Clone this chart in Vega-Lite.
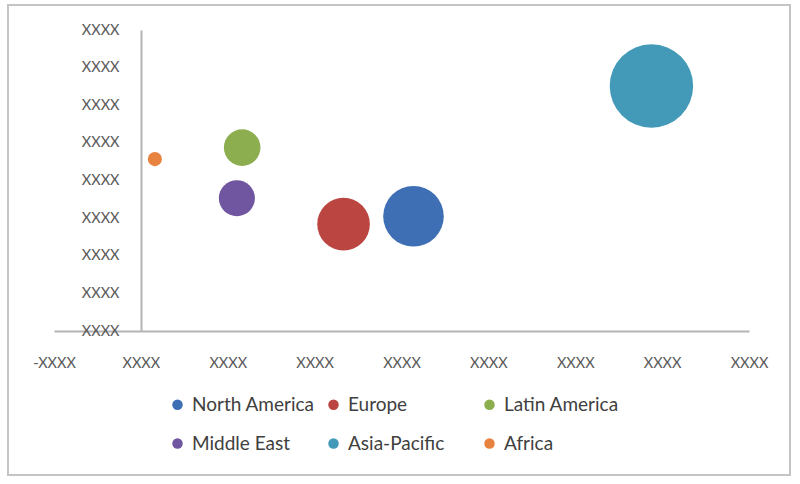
{
  "$schema": "https://vega.github.io/schema/vega-lite/v6.json",
  "width": 695,
  "height": 301,
  "autosize": "none",
  "padding": {"left": 54, "top": 30, "right": 51, "bottom": 153},
  "background": "white",
  "config": {
    "view": {"stroke": null},
    "font": "Lato",
    "axis": {
      "title": null,
      "grid": false,
      "ticks": false,
      "tickSize": 0,
      "domainColor": "#b4b4b4",
      "domainWidth": 2,
      "labelFont": "Lato",
      "labelFontSize": 14.5,
      "labelColor": "#595959",
      "labelFlush": false,
      "labelOverlap": false,
      "labelBound": false
    }
  },
  "layer": [
    {
      "data": {"values": [{}]},
      "mark": {"type": "rect", "fill": null, "stroke": "#c4c4c4", "strokeWidth": 2, "clip": false},
      "encoding": {
        "x": {
          "datum": -1.5295,
          "type": "quantitative",
          "scale": {"domain": [-1, 7], "nice": false, "zero": false},
          "axis": {
            "values": [-1, 0, 1, 2, 3, 4, 5, 6, 7],
            "labelExpr": "datum.value < 0 ? '-XXXX' : 'XXXX'",
            "labelPadding": 25
          }
        },
        "x2": {"datum": 7.4718},
        "y": {
          "datum": -3.827,
          "type": "quantitative",
          "scale": {"domain": [0, 8], "nice": false, "zero": false},
          "axis": {
            "values": [0, 1, 2, 3, 4, 5, 6, 7, 8],
            "labelExpr": "'XXXX'",
            "offset": -87,
            "labelPadding": 22
          }
        },
        "y2": {"datum": 8.6645}
      }
    },
    {
      "data": {
        "values": [
          {"region": "North America", "x": 3.138, "y": 3.05, "size": 36.7},
          {"region": "Europe", "x": 2.333, "y": 2.84, "size": 27.7},
          {"region": "Latin America", "x": 1.166, "y": 4.875, "size": 13.4},
          {"region": "Middle East", "x": 1.105, "y": 3.53, "size": 13.0},
          {"region": "Asia-Pacific", "x": 5.877, "y": 6.51, "size": 69.6},
          {"region": "Africa", "x": 0.161, "y": 4.57, "size": 2.0}
        ]
      },
      "mark": {"type": "circle", "opacity": 1, "clip": false},
      "encoding": {
        "x": {
          "field": "x",
          "type": "quantitative",
          "scale": {"domain": [-1, 7], "nice": false, "zero": false},
          "axis": {
            "values": [-1, 0, 1, 2, 3, 4, 5, 6, 7],
            "labelExpr": "datum.value < 0 ? '-XXXX' : 'XXXX'",
            "labelPadding": 25
          }
        },
        "y": {
          "field": "y",
          "type": "quantitative",
          "scale": {"domain": [0, 8], "nice": false, "zero": false},
          "axis": {
            "values": [0, 1, 2, 3, 4, 5, 6, 7, 8],
            "labelExpr": "'XXXX'",
            "offset": -87,
            "labelPadding": 22
          }
        },
        "size": {
          "field": "size",
          "type": "quantitative",
          "scale": {"type": "linear", "domain": [0, 70], "range": [0, 7000]},
          "legend": null
        },
        "color": {
          "field": "region",
          "type": "nominal",
          "scale": {
            "domain": ["North America", "Europe", "Latin America", "Middle East", "Asia-Pacific", "Africa"],
            "range": ["#3e6eb3", "#bb4541", "#8cae4f", "#7056a0", "#4399b8", "#e8833f"]
          },
          "legend": {
            "title": null,
            "orient": "none",
            "legendX": 114,
            "legendY": 365,
            "direction": "horizontal",
            "columns": 3,
            "gridAlign": "all",
            "columnPadding": 9,
            "rowPadding": 19,
            "symbolType": "circle",
            "symbolSize": 110,
            "symbolStrokeWidth": 0,
            "labelFont": "Lato",
            "labelFontSize": 19,
            "labelColor": "#404040",
            "labelOffset": 5,
            "labelLimit": 300,
            "padding": 0
          }
        }
      }
    }
  ]
}
